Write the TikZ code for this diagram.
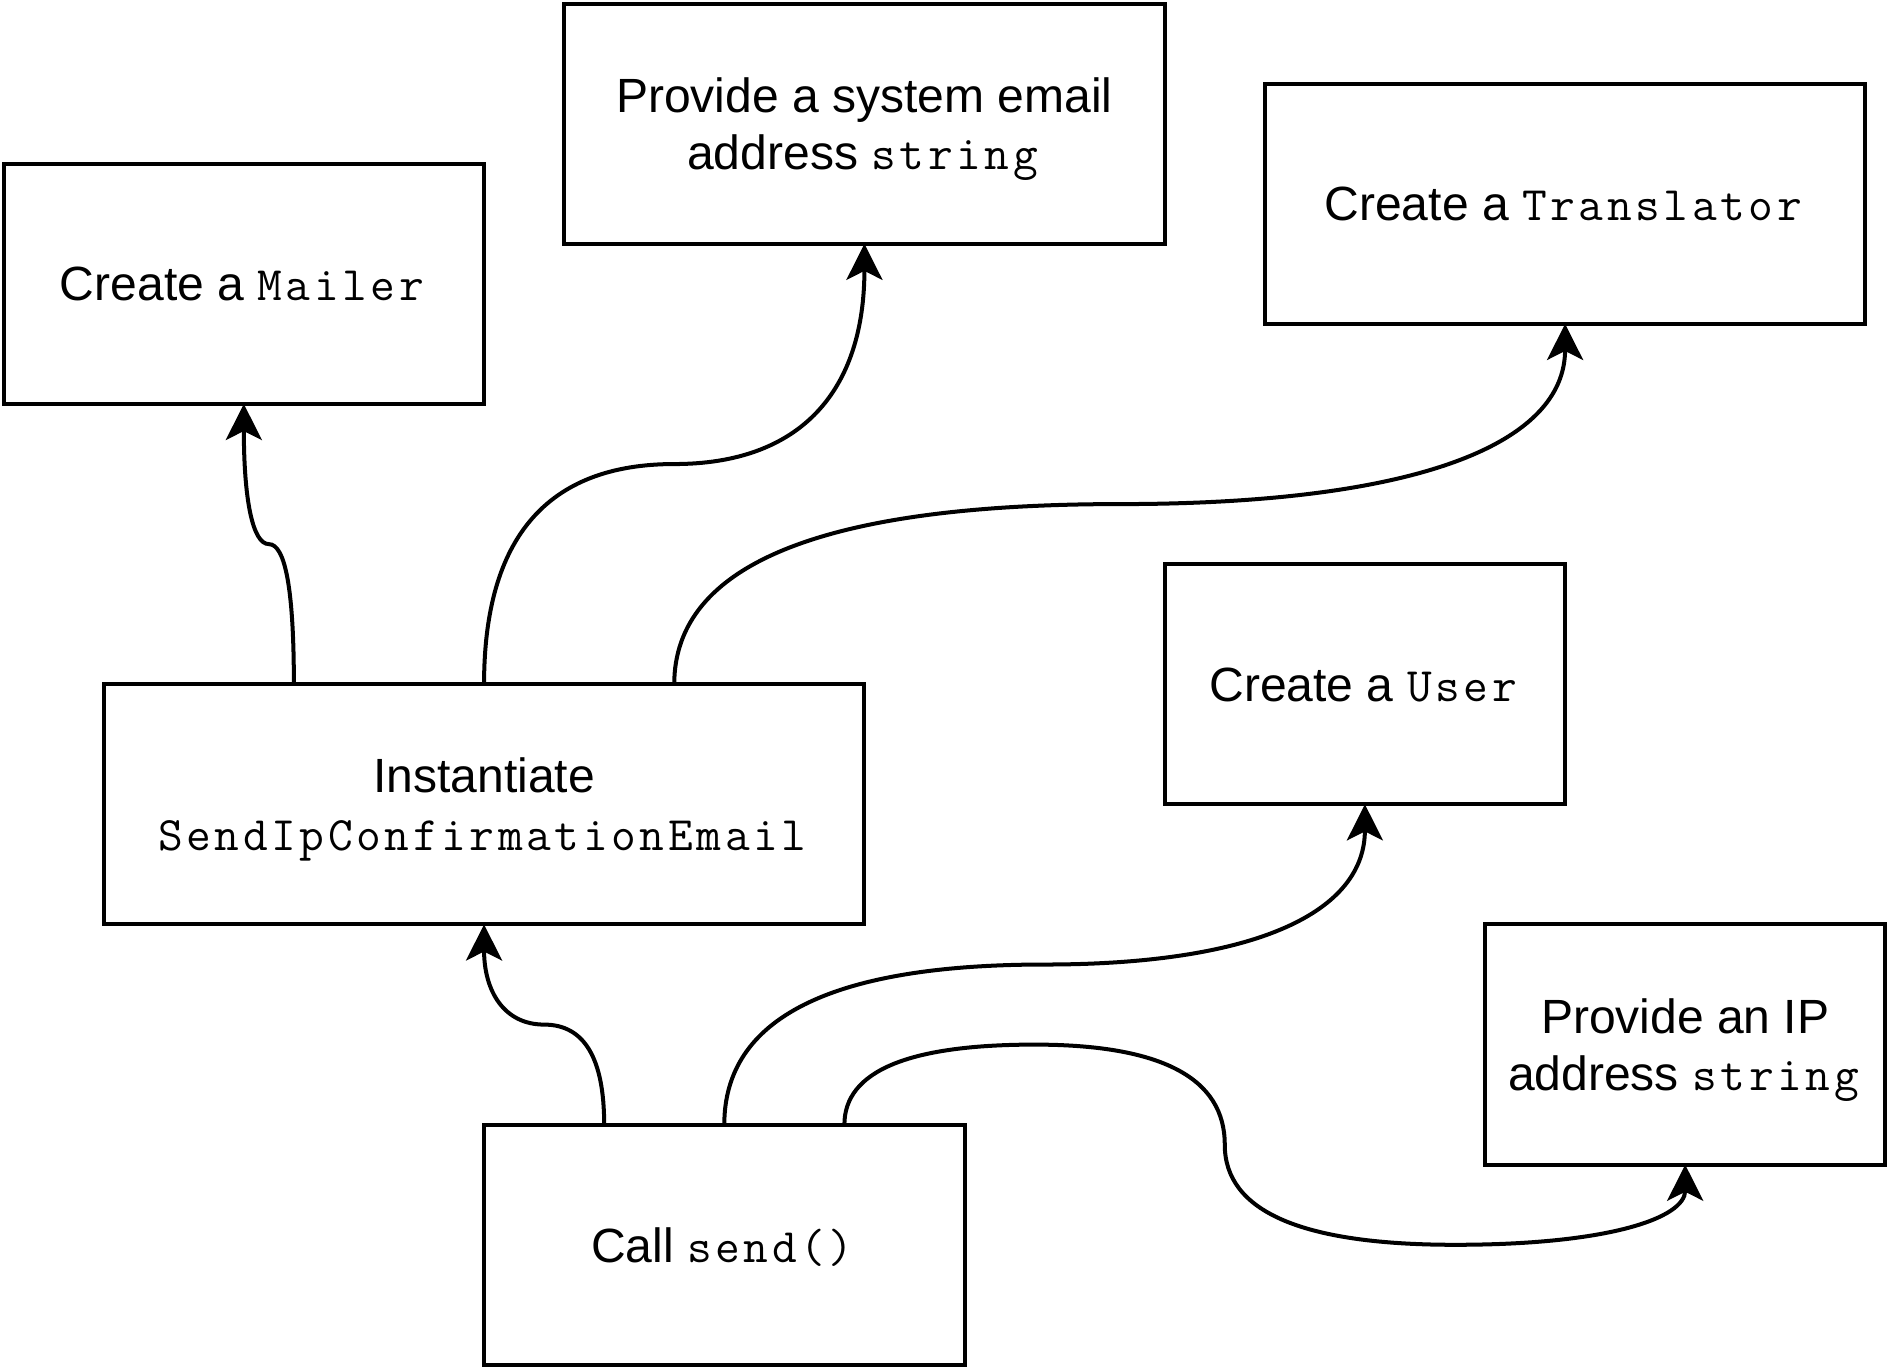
\documentclass[tikz,border=0pt]{standalone}
\usepackage{fontspec}
\setmainfont{Liberation Sans}
\setmonofont{Latin Modern Mono}[LetterSpace=7.5]
\usetikzlibrary{arrows.meta}

\begin{document}
\begin{tikzpicture}[x=1pt, y=-1pt, line width=2pt,
    >={Stealth[length=18pt, width=18pt, inset=4.5pt]}]
\useasboundingbox (-1.8,-1.8) rectangle (941.3,681.1);

\begin{scope}[every node/.style={draw, minimum height=120pt, inner sep=0pt, outer sep=0pt, align=center, text depth=0pt, font=\fontsize{24}{28.8}\selectfont}]
    \node[minimum width=240pt] (mail) at (120,140) {Create a \texttt{Mailer}};
    \node[minimum width=300pt] (addr) at (430,60) {Provide a system email\\address \texttt{string}};
    \node[minimum width=300pt] (trans) at (780,100) {Create a \texttt{Translator}};
    \node[minimum width=200pt] (user) at (680,340) {Create a \texttt{User}};
    \node[minimum width=380pt] (inst) at (240,400) {Instantiate\\\texttt{SendIpConfirmationEmail}};
    \node[minimum width=200pt] (ip) at (840,520) {Provide an IP\\address \texttt{string}};
    \node[minimum width=240pt] (call) at (360,620) {Call \texttt{send()}};
\end{scope}

    \draw [->] ([xshift=-95pt]inst.north) .. controls +(0,-46.67) and +(8.33,0) .. (132.5,270)
        .. controls +(-8.33,0) and +(0,46.67) .. (mail.south);
    \draw [->] (inst.north) .. controls +(0,-73.33) and +(-63.33,0) .. (335,230)
        .. controls +(63.33,0) and +(0,73.33) .. (addr.south);
    \draw [->] ([xshift=95pt]inst.north) .. controls +(0,-60) and +(-148.33,0) .. (557.5,250)
        .. controls +(148.33,0) and +(0,60) .. (trans.south);

    \draw [->] ([xshift=-60pt]call.north) .. controls +(0,-33.33) and +(20,0) .. (270,510)
        .. controls +(-20,0) and +(0,33.33) .. (inst.south);
    \draw [->] (call.north) .. controls +(0,-53.33) and +(-106.67,0) .. (520,480)
        .. controls +(106.67,0) and +(0,53.33) .. (user.south);
    \draw [->] ([xshift=60pt]call.north) .. controls +(0,-26.67) and +(-63.33,0) .. (515,520)
        .. controls +(63.33,0) and +(0,-33.33) .. (610,570)
        .. controls +(0,33.33) and +(-76.67,0) .. (725,620)
        .. controls +(76.67,0) and +(0,26.67) .. (ip.south);

\end{tikzpicture}
\end{document}
